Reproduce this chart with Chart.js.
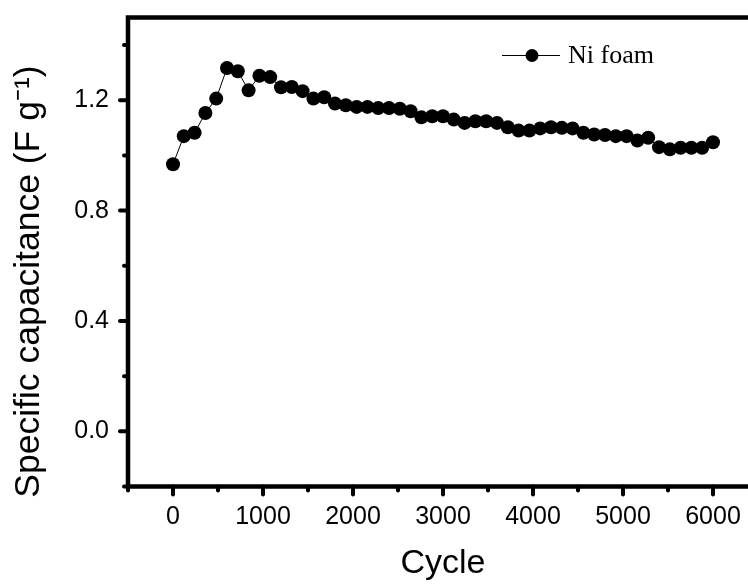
<!DOCTYPE html>
<html>
<head>
<meta charset="utf-8">
<script src="https://cdn.jsdelivr.net/npm/chart.js@4/dist/chart.umd.min.js"></script>
<style>
  html, body { margin: 0; padding: 0; background: #fff; overflow: hidden; }
  canvas { display: block; }
</style>
</head>
<body>
<canvas id="chart" width="800" height="584"></canvas>
<script>
// Cycling data, one point every 120 cycles
const cycles = [0, 120, 240, 360, 480, 600, 720, 840, 960, 1080,
    1200, 1320, 1440, 1560, 1680, 1800, 1920, 2040, 2160, 2280,
    2400, 2520, 2640, 2760, 2880, 3000, 3120, 3240, 3360, 3480,
    3600, 3720, 3840, 3960, 4080, 4200, 4320, 4440, 4560, 4680,
    4800, 4920, 5040, 5160, 5280, 5400, 5520, 5640, 5760, 5880, 6000];
const capacitance = [0.968, 1.070, 1.082, 1.154, 1.206, 1.317, 1.305, 1.236, 1.289, 1.284,
    1.247, 1.248, 1.233, 1.206, 1.211, 1.188, 1.182, 1.176, 1.176, 1.172,
    1.172, 1.169, 1.160, 1.138, 1.142, 1.142, 1.130, 1.118, 1.124, 1.124,
    1.118, 1.102, 1.090, 1.090, 1.098, 1.102, 1.100, 1.098, 1.082, 1.076,
    1.074, 1.070, 1.070, 1.054, 1.064, 1.030, 1.022, 1.028, 1.028, 1.028, 1.048];

// Axis ticks (empty label = minor tick)
const xTicks = [-500, 0, 500, 1000, 1500, 2000, 2500, 3000, 3500, 4000, 4500, 5000, 5500, 6000, 6500];
const xTickLabels = ['', '0', '', '1000', '', '2000', '', '3000', '', '4000', '', '5000', '', '6000', ''];
const yTicks = [-0.2, 0.0, 0.2, 0.4, 0.6, 0.8, 1.0, 1.2, 1.4];
const yTickLabels = ['', '0.0', '', '0.4', '', '0.8', '', '1.2', ''];

const sansFont = "'Liberation Sans', Arial, sans-serif";
const serifFont = "'Liberation Serif', 'Times New Roman', serif";

// Frame and outward tick marks
const framePlugin = {
    id: 'frame',
    afterDraw(chart) {
        const { ctx, chartArea: a, scales } = chart;
        ctx.save();
        ctx.strokeStyle = '#000';
        ctx.lineCap = 'round';
        ctx.lineWidth = 4;
        scales.x.ticks.forEach((t, i) => {
            const px = scales.x.getPixelForValue(t.value);
            const len = xTickLabels[i] ? 8 : 4;
            ctx.beginPath();
            ctx.moveTo(px, a.bottom);
            ctx.lineTo(px, a.bottom + len);
            ctx.stroke();
        });
        scales.y.ticks.forEach((t, i) => {
            const py = scales.y.getPixelForValue(t.value);
            const len = yTickLabels[i] ? 8 : 4;
            ctx.beginPath();
            ctx.moveTo(a.left, py);
            ctx.lineTo(a.left - len, py);
            ctx.stroke();
        });
        ctx.lineCap = 'butt';
        ctx.lineWidth = 4.5;
        ctx.strokeRect(a.left, a.top, a.right - a.left, a.bottom - a.top);
        ctx.restore();
    }
};

// Legend: line with dot, then label
const legendPlugin = {
    id: 'lineLegend',
    afterDraw(chart) {
        const { ctx, chartArea: a } = chart;
        const ds = chart.data.datasets[0];
        const x0 = a.left + 374, y0 = a.top + 38;
        ctx.save();
        ctx.strokeStyle = ds.borderColor;
        ctx.lineWidth = 1.2;
        ctx.beginPath();
        ctx.moveTo(x0, y0);
        ctx.lineTo(x0 + 58, y0);
        ctx.stroke();
        ctx.fillStyle = ds.pointBackgroundColor;
        ctx.beginPath();
        ctx.arc(x0 + 30, y0, 6.5, 0, Math.PI * 2);
        ctx.fill();
        ctx.fillStyle = '#000';
        ctx.font = '26px ' + serifFont;
        ctx.textBaseline = 'middle';
        ctx.fillText(ds.label, x0 + 66, y0 + 1);
        ctx.restore();
    }
};

const ctx = document.getElementById('chart').getContext('2d');
new Chart(ctx, {
    type: 'line',
    data: {
        labels: cycles,
        datasets: [{
            label: 'Ni foam',
            data: cycles.map((c, i) => ({ x: c, y: capacitance[i] })),
            borderColor: '#000',
            borderWidth: 1,
            pointRadius: 7,
            pointBackgroundColor: '#000',
            pointBorderWidth: 0,
            tension: 0
        }]
    },
    options: {
        responsive: false,
        animation: false,
        layout: { padding: { top: 17.5, right: 42, left: 0, bottom: 0 } },
        plugins: { legend: { display: false }, tooltip: { enabled: false } },
        scales: {
            x: {
                type: 'linear',
                min: -500,
                max: 6500,
                afterBuildTicks: s => { s.ticks = xTicks.map(v => ({ value: v })); },
                afterFit: s => {
                    s.height = 97.5;
                    s.paddingLeft = 0;
                    s.paddingRight = 0;
                },
                grid: { display: false },
                border: { display: false },
                ticks: {
                    autoSkip: false,
                    maxRotation: 0,
                    padding: 8,
                    color: '#000',
                    font: { family: sansFont, size: 25 },
                    callback: (v, i) => xTickLabels[i]
                },
                title: {
                    display: true,
                    text: 'Cycle',
                    color: '#000',
                    font: { family: sansFont, size: 34 },
                    padding: { top: 11, bottom: 0 }
                }
            },
            y: {
                min: -0.2,
                max: 1.5,
                afterBuildTicks: s => { s.ticks = yTicks.map(v => ({ value: v })); },
                afterFit: s => {
                    s.width = 128;
                    s.paddingTop = 0;
                    s.paddingBottom = 0;
                },
                grid: { display: false },
                border: { display: false },
                ticks: {
                    autoSkip: false,
                    padding: 11,
                    color: '#000',
                    font: { family: sansFont, size: 25 },
                    callback: (v, i) => yTickLabels[i]
                },
                title: {
                    display: true,
                    text: 'Specific capacitance (F g\u207B\u00B9)      ',
                    color: '#000',
                    font: { family: sansFont, size: 35.5 },
                    padding: { top: 8, bottom: 0 }
                }
            }
        }
    },
    plugins: [framePlugin, legendPlugin]
});
</script>
</body>
</html>
